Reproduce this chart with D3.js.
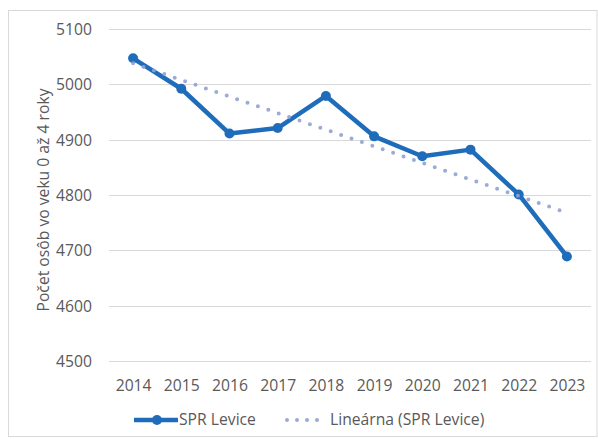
<!DOCTYPE html>
<html>
<head>
<meta charset="utf-8">
<script src="https://cdn.jsdelivr.net/npm/d3@7/dist/d3.min.js"></script>
<style>
  html, body { margin: 0; padding: 0; background: #fff; }
  svg { display: block; font-family: "Open Sans", "Noto Sans", sans-serif; }
</style>
</head>
<body>
<svg id="chart" width="598" height="439"></svg>
<script>
// Population aged 0-4 in the Levice district, 2014-2023
const years = ["2014", "2015", "2016", "2017", "2018", "2019", "2020", "2021", "2022", "2023"];
const spr = [5047, 4992, 4911, 4921, 4979, 4906, 4870, 4882, 4801, 4689];
// Linear trend line endpoints (first and last year)
const trendYears = ["2014", "2023"];
const trendValues = [5038, 4768];
const yTicks = [4500, 4600, 4700, 4800, 4900, 5000, 5100];
const seriesName = "SPR Levice";
const trendName = "Lineárna (SPR Levice)";
const yTitle = "Počet osôb vo veku 0 až 4 roky";

const svg = d3.select("#chart");
const W = 598, H = 439;
const plot = { left: 109, right: 591, top: 29, bottom: 361 };
const lineColor = "#1f6dba";
const trendColor = "#8fa3d2";
const textColor = "#595959";
const fontSize = "15.7px";

// chart frame
svg.append("rect")
  .attr("x", 8.5).attr("y", 10.5)
  .attr("width", W - 9.5).attr("height", H - 13)
  .attr("fill", "#fff").attr("stroke", "#d9d9d9");

const x = d3.scalePoint().domain(years).range([plot.left, plot.right]).padding(0.5);
const y = d3.scaleLinear().domain([4500, 5100]).range([plot.bottom, plot.top]);

// horizontal gridlines
svg.append("g").selectAll("line").data(yTicks).join("line")
  .attr("x1", plot.left).attr("x2", plot.right)
  .attr("y1", d => Math.round(y(d)) + 0.5).attr("y2", d => Math.round(y(d)) + 0.5)
  .attr("stroke", "#d9d9d9").attr("stroke-width", 1);

// y axis labels
const yAxis = d3.axisLeft(y).tickValues(yTicks).tickSize(0).tickPadding(0).tickFormat(d3.format("d"));
const gy = svg.append("g").attr("transform", `translate(92,0)`).call(yAxis);
gy.select(".domain").remove();
gy.selectAll("text").attr("fill", textColor).style("font-size", fontSize)
  .style("font-family", "'Open Sans', sans-serif").attr("dy", "0.35em");

// x axis labels
const xAxis = d3.axisBottom(x).tickSize(0).tickPadding(0);
const gx = svg.append("g").attr("transform", `translate(0,${plot.bottom + 17})`).call(xAxis);
gx.select(".domain").remove();
gx.selectAll("text").attr("fill", textColor).style("font-size", fontSize)
  .style("font-family", "'Open Sans', sans-serif").attr("dy", "0.35em").attr("y", 7);

// y axis title
svg.append("text")
  .attr("transform", `translate(43,${(plot.top + plot.bottom) / 2 + 5}) rotate(-90)`)
  .attr("text-anchor", "middle").attr("dy", "0.35em")
  .attr("fill", textColor).style("font-size", fontSize)
  .text(yTitle);

// data line
const line = d3.line().x((d, i) => x(years[i])).y(d => y(d));
svg.append("path").datum(spr)
  .attr("d", line)
  .attr("fill", "none").attr("stroke", lineColor)
  .attr("stroke-width", 4.5).attr("stroke-linejoin", "round");

svg.append("g").selectAll("circle").data(spr).join("circle")
  .attr("cx", (d, i) => x(years[i])).attr("cy", d => y(d))
  .attr("r", 5).attr("fill", lineColor);

// linear trend (drawn over the data line)
const trendLine = d3.line().x((d, i) => x(trendYears[i])).y(d => y(d));
svg.append("path").datum(trendValues)
  .attr("d", trendLine)
  .attr("fill", "none").attr("stroke", trendColor)
  .attr("stroke-width", 4).attr("stroke-linecap", "round")
  .attr("stroke-dasharray", "0 11").attr("opacity", 0.9);

// legend
const legY = 420;
const leg = svg.append("g");
leg.append("line").attr("x1", 134).attr("x2", 178).attr("y1", legY).attr("y2", legY)
  .attr("stroke", lineColor).attr("stroke-width", 4.5);
leg.append("circle").attr("cx", 157).attr("cy", legY).attr("r", 5).attr("fill", lineColor);
leg.append("text").attr("x", 179).attr("y", legY).attr("dy", "0.35em")
  .attr("fill", textColor).style("font-size", fontSize).text(seriesName);

leg.append("line").attr("x1", 287).attr("x2", 326).attr("y1", legY).attr("y2", legY)
  .attr("stroke", trendColor).attr("stroke-width", 4).attr("stroke-linecap", "round")
  .attr("stroke-dasharray", "0 10").attr("opacity", 0.9);
leg.append("text").attr("x", 330).attr("y", legY).attr("dy", "0.35em")
  .attr("fill", textColor).style("font-size", fontSize).text(trendName);
</script>
</body>
</html>
